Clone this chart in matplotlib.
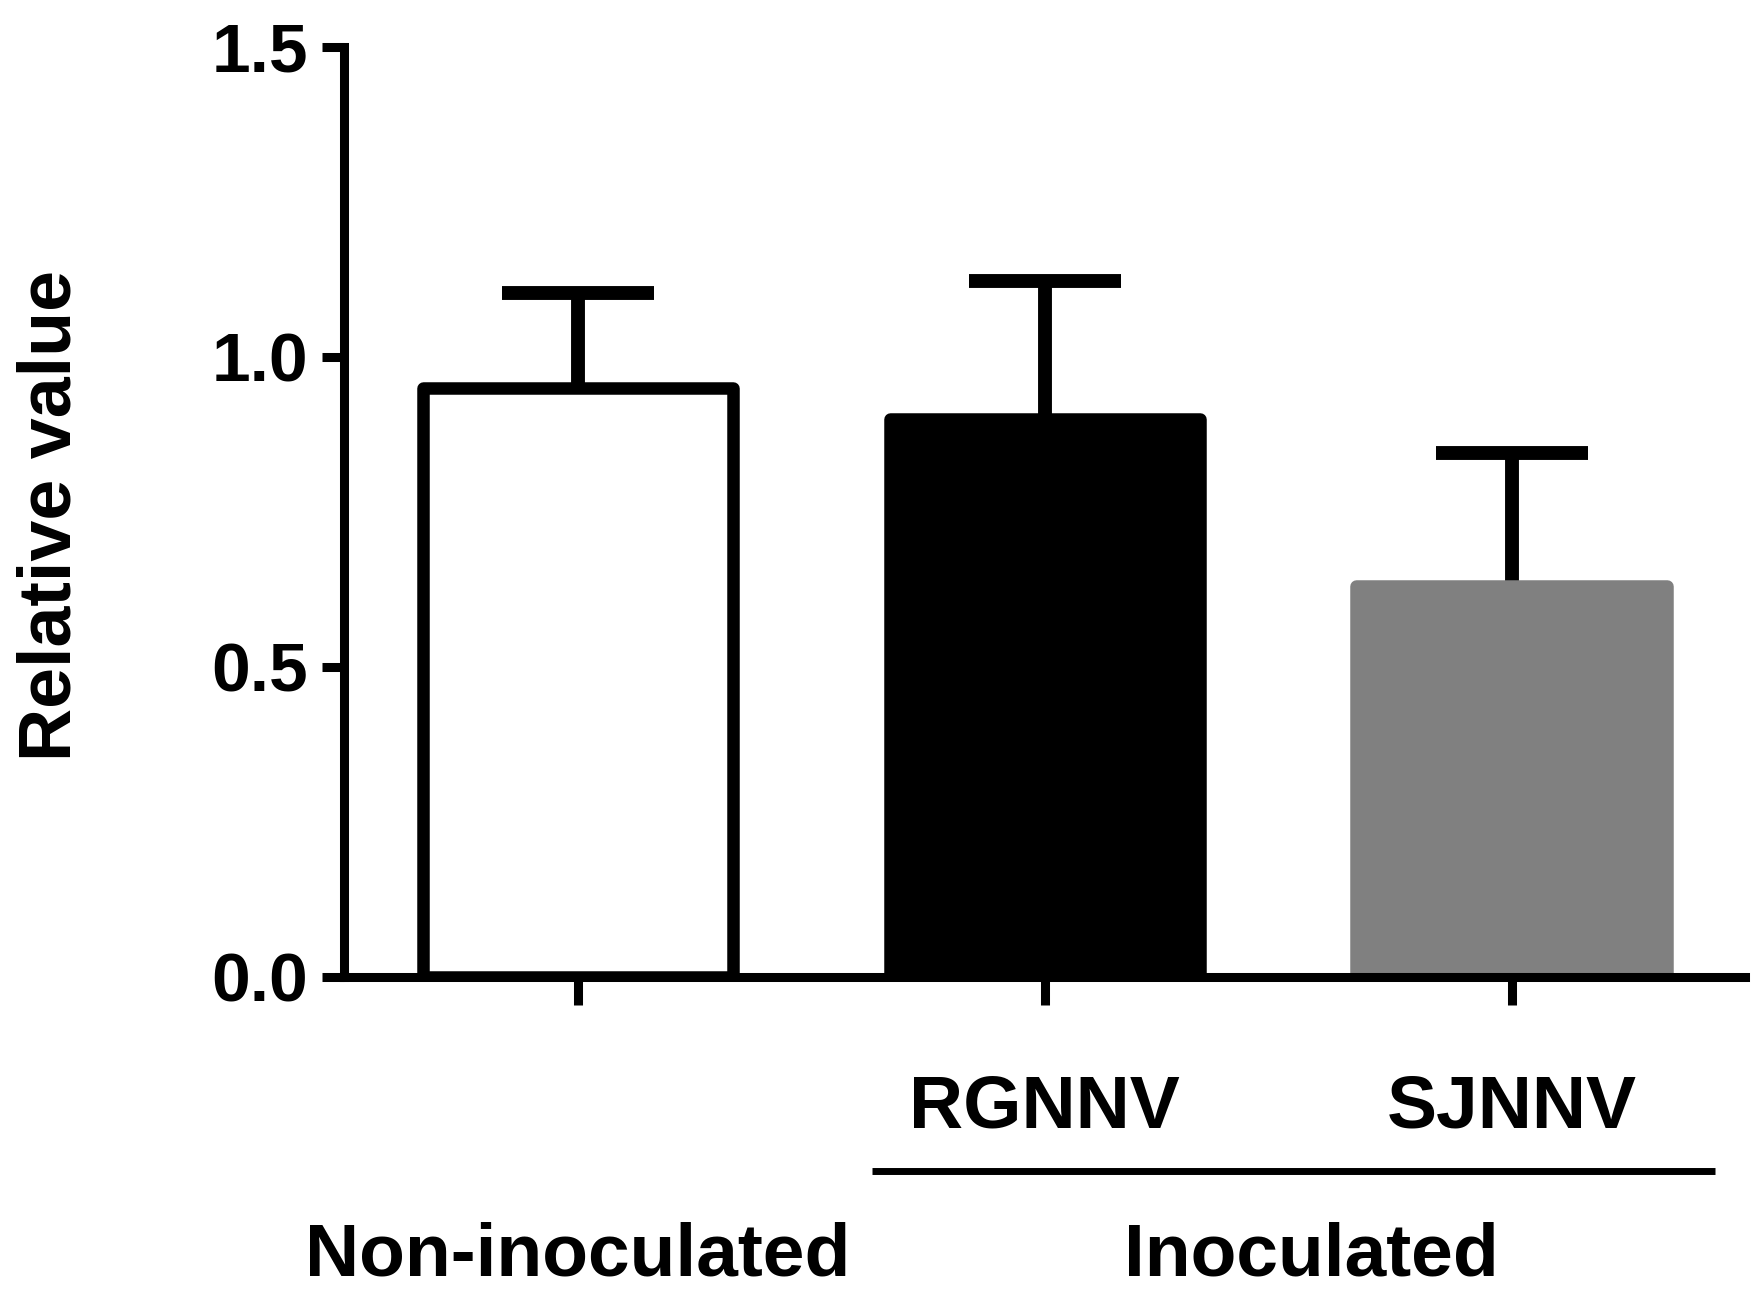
import numpy as np
import matplotlib
matplotlib.use("Agg")
import matplotlib.pyplot as plt

groups = ["Non-inoculated", "RGNNV", "SJNNV"]
means = [0.95, 0.90, 0.63]
errs = [0.153, 0.223, 0.215]
colors = ["white", "black", "#808080"]
edges = ["black", "black", "#808080"]
yticks = [0.0, 0.5, 1.0, 1.5]

plt.rcParams['font.family'] = ['Liberation Sans', 'DejaVu Sans']
plt.rcParams['font.weight'] = 'bold'

fig = plt.figure(figsize=(17.54, 12.91), dpi=100)
ax = fig.add_axes([0.1964, 0.2435, 0.7985, 0.7201])

x = np.arange(len(groups))
eb = ax.errorbar(x, means, yerr=[np.zeros(len(errs)), errs], fmt='none',
                 ecolor='black', elinewidth=10, capsize=55, capthick=10, zorder=1)
# only the upper caps are wanted
eb[1][0].set_visible(False)
ax.bar(x, means, width=0.665, color=colors, edgecolor=edges, linewidth=9,
       joinstyle='round', zorder=2)

ax.set_xlim(-0.5, 2.5)
ax.set_ylim(0, 1.5)
ax.set_yticks(yticks)
ax.set_yticklabels(["%.1f" % v for v in yticks])
ax.set_xticks(x)
ax.set_xticklabels([])

for s in ['top', 'right']:
    ax.spines[s].set_visible(False)
for s in ['left', 'bottom']:
    ax.spines[s].set_linewidth(6.5)
    ax.spines[s].set_zorder(3)
ax.tick_params(axis='y', length=16, width=6.5, pad=10, labelsize=50)
ax.tick_params(axis='x', length=20, width=6.5)

tr = ax.get_xaxis_transform()
ax.text(1, -0.1625, groups[1], transform=tr, ha='center', va='baseline',
        fontsize=54, fontweight='bold', clip_on=False)
ax.text(2, -0.1625, groups[2], transform=tr, ha='center', va='baseline',
        fontsize=54, fontweight='bold', clip_on=False)
ax.plot([0.629, 2.435], [-0.209, -0.209], transform=tr, color='black',
        lw=5, clip_on=False, solid_capstyle='butt')
ax.text(0, -0.321, groups[0], transform=tr, ha='center', va='baseline',
        fontsize=54, fontweight='bold', clip_on=False)
ax.text(1.572, -0.321, "Inoculated", transform=tr, ha='center', va='baseline',
        fontsize=54, fontweight='bold', clip_on=False)

fig.text(0.029, 0.601, "Relative value", rotation=90, ha='center', va='center',
         fontsize=53, fontweight='bold')

fig.savefig('out.png', dpi=100, facecolor='white')
